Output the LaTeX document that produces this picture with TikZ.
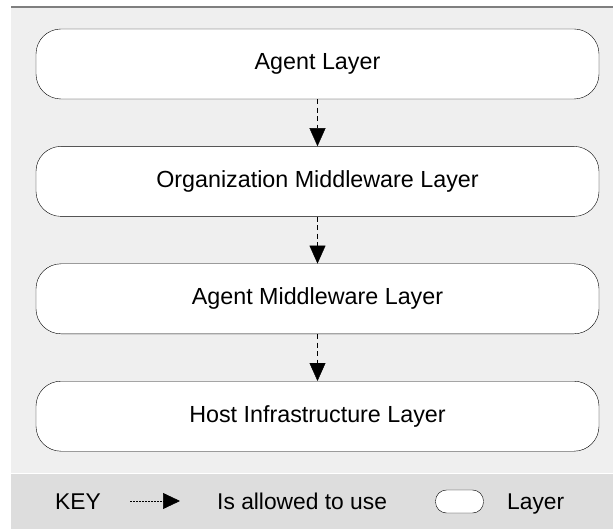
\documentclass[tikz,border=0pt]{standalone}
\usepackage{fontspec}
\setmainfont{Liberation Sans}
\usepackage{tikz}
\usetikzlibrary{positioning,arrows.meta}
\definecolor{panelgray}{HTML}{EFEFEF}
\definecolor{keygray}{HTML}{DDDDDD}
\definecolor{rulegray}{HTML}{7F7F7F}
\tikzstyle{layer} = [rectangle, draw, fill=white, rounded corners=25pt, minimum width=563pt, minimum height=70pt, text centered, font=\fontsize{23.3}{27}\selectfont]
\tikzstyle{uses}  = [draw, dash pattern=on 5pt off 3.5pt, -{Triangle[length=18pt, width=16pt]}]
\tikzstyle{keytext} = [font=\fontsize{22.8}{27}\selectfont, inner sep=0pt, anchor=base west]

\begin{document}
\begin{tikzpicture}[node distance=47pt]

    \useasboundingbox (0,0) rectangle (613pt,-529pt);
    \fill[panelgray] (11pt,-7pt) rectangle (613pt,-529pt);
    \fill[keygray]   (11pt,-473pt) rectangle (613pt,-529pt);
    \draw[white, line width=1pt] (11pt,-473pt) -- (613pt,-473pt);
    \draw[rulegray, line width=1.5pt] (11pt,-7pt) -- (613pt,-7pt);

    \node[layer] (agent) at (317.5pt,-64pt) {Agent Layer};
    \node[layer, below=of agent]  (orgmw)   {Organization Middleware Layer};
    \node[layer, below=of orgmw]  (agentmw) {Agent Middleware Layer};
    \node[layer, below=of agentmw] (host)   {Host Infrastructure Layer};

    \path[uses] (agent)   -- (orgmw);
    \path[uses] (orgmw)   -- (agentmw);
    \path[uses] (agentmw) -- (host);

    % key
    \node[keytext] (key) at (55pt,-509pt) {KEY};
    \coordinate (keyfrom) at (130pt,-501pt);
    \coordinate (keyto)   at (180pt,-501pt);
    \draw[dash pattern=on 2pt off 1pt, line width=0.7pt, -{Triangle[length=17pt, width=16pt]}] (keyfrom) -- (keyto);
    \node[keytext] (usetext) at (217pt,-509pt) {Is allowed to use};
    \node[draw, fill=white, rounded corners=11pt, minimum width=48pt, minimum height=23pt, inner sep=0pt] (keylayer) at (459.5pt,-501.5pt) {};
    \node[keytext] (layertext) at (507pt,-509pt) {Layer};

\end{tikzpicture}
\end{document}
